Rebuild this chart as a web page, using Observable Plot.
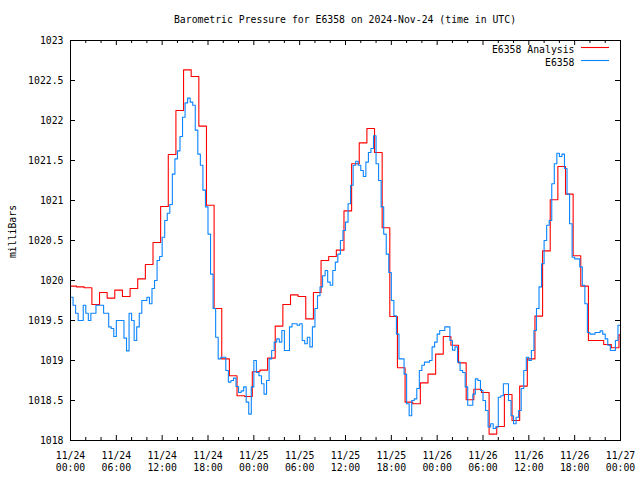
<!DOCTYPE html>
<html>
<head>
<meta charset="utf-8">
<script src="https://cdn.jsdelivr.net/npm/d3@7"></script>
<script src="https://cdn.jsdelivr.net/npm/@observablehq/plot@0.6"></script>
<style>
  html, body { margin: 0; padding: 0; background: #fff; }
  #wrap { position: relative; width: 640px; height: 480px; font-family: "DejaVu Sans Mono", monospace; }
  #title { position: absolute; left: 0; top: 14px; width: 690px; text-align: center; font-size: 9.8px; line-height: 12px; color: #000; }
  #chart { position: absolute; left: 0; top: 30px; }
</style>
</head>
<body>
<div id="wrap">
  <div id="title">Barometric Pressure for E6358 on 2024-Nov-24 (time in UTC)</div>
  <div id="chart"></div>
</div>
<script>
// ---- data ----
const title = "Barometric Pressure for E6358 on 2024-Nov-24 (time in UTC)";
const startTime = Date.UTC(2024, 10, 24, 0, 0);
const spanHours = 72;
const seriesNames = ["E6358 Analysis", "E6358"];
const yLabel = "milliBars";
const yTicks = [1018, 1018.5, 1019, 1019.5, 1020, 1020.5, 1021, 1021.5, 1022, 1022.5, 1023];

// Analysis (hourly, each value switches in at 48 min past the previous hour)
const analysisOffsetMin = -12;
const analysisValues = [
  1019.93, 1019.92, 1019.91, 1019.70, 1019.85, 1019.78, 1019.88, 1019.80, 1019.90, 1020.02,
  1020.20, 1020.475, 1020.925, 1021.575, 1022.125, 1022.633, 1022.55, 1021.93, 1020.94, 1019.65,
  1019.02, 1018.81, 1018.56, 1018.55, 1018.86, 1018.88, 1019.03, 1019.43, 1019.70, 1019.82,
  1019.80, 1019.52, 1019.85, 1020.25, 1020.30, 1020.38, 1020.87, 1021.46, 1021.72, 1021.90,
  1021.60, 1020.66, 1019.55, 1018.91, 1018.48, 1018.46, 1018.72, 1018.83, 1019.08, 1019.30,
  1019.19, 1018.97, 1018.51, 1018.64, 1018.60, 1018.08, 1018.175, 1018.575, 1018.25, 1018.68,
  1019.02, 1019.555, 1020.37, 1021.01, 1021.425, 1021.08, 1020.31, 1019.93, 1019.25, 1019.25,
  1019.20, 1019.16, 1019.32
];

// Station observations, every 20 minutes
const obsStepMin = 20;
const obsValues = [
  1019.79, 1019.69, 1019.59, 1019.50, 1019.50, 1019.69, 1019.59, 1019.50, 1019.59, 1019.59,
  1019.69, 1019.69, 1019.69, 1019.59, 1019.59, 1019.42, 1019.40, 1019.30, 1019.50, 1019.50,
  1019.50, 1019.28, 1019.12, 1019.59, 1019.50, 1019.25, 1019.42, 1019.59, 1019.75, 1019.75,
  1019.79, 1019.71, 1019.90, 1020.00, 1020.25, 1020.30, 1020.54, 1020.75, 1020.84, 1020.95,
  1021.33, 1021.52, 1021.62, 1021.80, 1022.04, 1022.22, 1022.28, 1022.23, 1022.19, 1021.88,
  1021.58, 1021.44, 1021.13, 1020.92, 1020.58, 1020.08, 1019.65, 1019.29, 1019.02, 1019.04,
  1019.04, 1018.875, 1018.73, 1018.75, 1018.78, 1018.675, 1018.60, 1018.62, 1018.67, 1018.48,
  1018.33, 1018.67, 1019.00, 1018.85, 1018.81, 1018.71, 1018.58, 1018.75, 1019.02, 1019.125,
  1019.23, 1019.27, 1019.23, 1019.375, 1019.125, 1019.125, 1019.42, 1019.46, 1019.46, 1019.44,
  1019.46, 1019.25, 1019.21, 1019.29, 1019.17, 1019.42, 1019.65, 1019.81, 1019.92, 1020.06,
  1020.125, 1019.98, 1019.94, 1020.125, 1020.23, 1020.33, 1020.50, 1020.625, 1020.73, 1020.96,
  1021.19, 1021.44, 1021.49, 1021.44, 1021.375, 1021.30, 1021.48, 1021.60, 1021.65, 1021.81,
  1021.46, 1021.25, 1020.92, 1020.58, 1020.33, 1020.10, 1019.75, 1019.56, 1019.33, 1019.02,
  1019.02, 1018.83, 1018.46, 1018.31, 1018.50, 1018.52, 1018.65, 1018.875, 1018.94, 1018.98,
  1018.98, 1019.00, 1019.17, 1019.23, 1019.33, 1019.375, 1019.375, 1019.42, 1019.42, 1019.25,
  1019.13, 1019.17, 1018.98, 1018.875, 1018.85, 1018.67, 1018.44, 1018.44, 1018.58, 1018.77,
  1018.75, 1018.625, 1018.50, 1018.375, 1018.17, 1018.21, 1018.15, 1018.17, 1018.54, 1018.56,
  1018.71, 1018.71, 1018.50, 1018.31, 1018.21, 1018.29, 1018.375, 1018.65, 1018.875, 1019.04,
  1019.00, 1019.125, 1019.375, 1019.65, 1019.92, 1020.21, 1020.50, 1020.69, 1020.75, 1021.21,
  1021.46, 1021.59, 1021.55, 1021.58, 1021.40, 1021.08, 1020.71, 1020.29, 1020.27, 1020.27,
  1020.17, 1019.94, 1019.71, 1019.35, 1019.33, 1019.33, 1019.35, 1019.35, 1019.37, 1019.33,
  1019.27, 1019.19, 1019.125, 1019.125, 1019.25, 1019.44, 1019.42
];

// ---- build tables ----
const HOUR = 3600e3, MIN = 60e3;
const endTime = startTime + spanHours * HOUR;
const analysis = analysisValues.map((v, k) => ({
  time: new Date(Math.max(startTime, startTime + k * HOUR + analysisOffsetMin * MIN)),
  value: v
}));
analysis.push({time: new Date(endTime), value: analysisValues[analysisValues.length - 1]});
const obs = obsValues.map((v, i) => ({time: new Date(startTime + i * obsStepMin * MIN), value: v}));

const majorX = d3.utcHour.every(6).range(new Date(startTime), new Date(endTime + 1));
const minorX = d3.utcHour.every(2).range(new Date(startTime), new Date(endTime + 1)).filter(d => d.getUTCHours() % 6 !== 0);

const W = 640, H = 450, mt = 10, mb = 40, ml = 70, mr = 20;
const plotH = H - mt - mb, plotW = W - ml - mr;
const font = "DejaVu Sans Mono, monospace";
const RED = "#ff0000", BLUE = "#0a84ff";

const chart = Plot.plot({
  width: W, height: H,
  marginTop: mt, marginBottom: mb, marginLeft: ml, marginRight: mr,
  style: {fontFamily: font, fontSize: "9.8px", background: "#fff", color: "#000"},
  x: {type: "utc", domain: [new Date(startTime), new Date(endTime)]},
  y: {domain: [1018, 1023]},
  marks: [
    Plot.axisX(majorX, {tickSize: 0, tickPadding: 10, lineHeight: 1.2, tickFormat: d3.utcFormat("%m/%d\n%H:%M"), label: null, fontSize: 9.8}),
    Plot.axisY(yTicks, {tickSize: 0, tickPadding: 7, tickFormat: d => String(d), label: null, fontSize: 9.8}),
    Plot.text([yLabel], {frameAnchor: "left", dx: -58, dy: -9, rotate: -90, textAnchor: "middle", text: d => d, fontSize: 9.8}),
    // inward ticks
    Plot.tickX(majorX, {x: d => d, insetTop: plotH - 5, stroke: "#000"}),
    Plot.tickX(majorX, {x: d => d, insetBottom: plotH - 5, stroke: "#000"}),
    Plot.tickX(minorX, {x: d => d, insetTop: plotH - 3, stroke: "#000"}),
    Plot.tickX(minorX, {x: d => d, insetBottom: plotH - 3, stroke: "#000"}),
    Plot.tickY(yTicks, {y: d => d, insetRight: plotW - 5, stroke: "#000"}),
    Plot.tickY(yTicks, {y: d => d, insetLeft: plotW - 5, stroke: "#000"}),
    Plot.line(analysis, {x: "time", y: "value", curve: "step-after", stroke: RED, strokeWidth: 1.1, clip: true}),
    Plot.line(obs, {x: "time", y: "value", curve: "step-after", stroke: BLUE, strokeWidth: 1.1, clip: true}),
    Plot.frame({stroke: "#000", strokeWidth: 1}),
    // legend text
    Plot.text([seriesNames[0]], {frameAnchor: "top-right", dx: -46, dy: 6, text: d => d, textAnchor: "end", fontSize: 9.8}),
    Plot.text([seriesNames[1]], {frameAnchor: "top-right", dx: -46, dy: 19, text: d => d, textAnchor: "end", fontSize: 9.8})
  ]
});
document.getElementById("chart").appendChild(chart);

// legend line samples
const svg = d3.select(chart);
[[RED, mt + 7], [BLUE, mt + 20]].forEach(([c, y]) => {
  svg.append("line").attr("x1", W - mr - 39).attr("x2", W - mr - 11)
    .attr("y1", y + 0.5).attr("y2", y + 0.5).attr("stroke", c).attr("stroke-width", 1.1);
});
</script>
</body>
</html>
